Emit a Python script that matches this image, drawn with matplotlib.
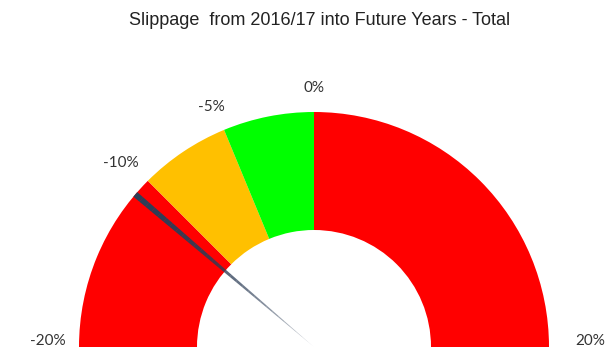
import numpy as np
import matplotlib
matplotlib.use("Agg")
import matplotlib.pyplot as plt
from matplotlib.patches import Wedge, Polygon

# gauge data
band_edges = [-20, -10, -5, 0, 20]
band_colors = ["#ff0000", "#ffc000", "#00ff00", "#ff0000"]
tick_values = [-20, -10, -5, 0, 20]
tick_labels = ["-20%", "-10%", "-5%", "0%", "20%"]
needle_value = -11

vmin, vmax = -20, 20
r_out, r_in = 235, 117


def val2ang(v):
    return 180 - (v - vmin) / (vmax - vmin) * 180


fig = plt.figure(figsize=(6.08, 3.52), dpi=100)
ax = fig.add_axes([0, 0, 1, 1])
ax.set_xlim(-314, 294)
ax.set_ylim(-5, 347)
ax.set_aspect("equal")
ax.axis("off")

for i, c in enumerate(band_colors):
    a1 = val2ang(band_edges[i + 1])
    a2 = val2ang(band_edges[i])
    ax.add_patch(Wedge((0, 0), r_out, a1, a2, width=r_out - r_in,
                       facecolor=c, edgecolor="none"))

# needle: tapered, fading toward the centre
th = np.radians(val2ang(needle_value))
d = np.array([np.cos(th), np.sin(th)])
n = np.array([-d[1], d[0]])
steps = 30
for k in range(steps):
    t0 = k / steps
    t1 = (k + 1) / steps
    r0 = r_out * (1 - t0)
    r1 = r_out * (1 - t1)
    w0 = 3.0 * (1 - t0)
    w1 = 3.0 * (1 - t1)
    pts = [d * r0 + n * w0, d * r1 + n * w1, d * r1 - n * w1, d * r0 - n * w0]
    alpha = 1 - 0.85 * t0 ** 2
    ax.add_patch(Polygon(pts, closed=True, facecolor="#2d3e57",
                         edgecolor="none", alpha=alpha))

# labels
label_pos = {-20: (-266, 6), -10: (-193, 184), -5: (-103, 240),
             0: (0, 259), 20: (276, 6)}
for v, lab in zip(tick_values, tick_labels):
    x, y = label_pos[v]
    ax.text(x, y, lab, ha="center", va="center", fontsize=11,
            family="Lato", color="#333333")

fig.text(0.526, 0.943, "Slippage  from 2016/17 into Future Years - Total",
         ha="center", va="center", fontsize=13, family="Liberation Sans",
         color="#222222")

fig.savefig("out.png", dpi=100)
